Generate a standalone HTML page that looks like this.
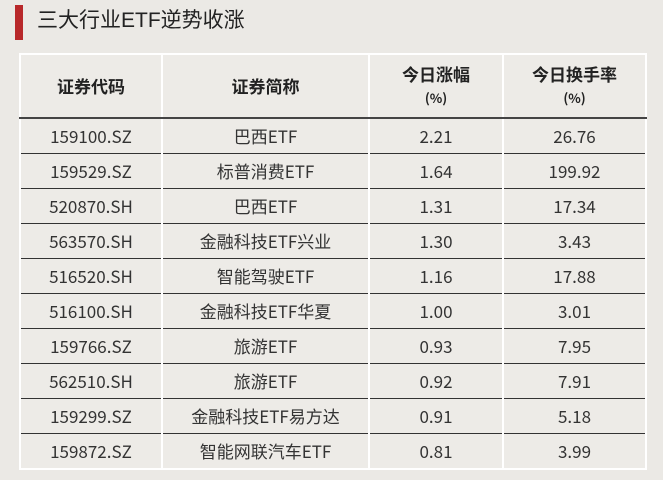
<!DOCTYPE html>
<html><head><meta charset="utf-8"><style>
body{margin:0;width:663px;height:480px;background:#ebe9e5;font-family:"Liberation Sans","Noto Sans CJK SC",sans-serif;position:relative;overflow:hidden}
.bar{position:absolute;left:15px;top:5px;width:8px;height:35px;background:#b8282a}
.title{position:absolute;left:37px;top:6px;font-size:21px;color:#222;line-height:30px}
table{position:absolute;left:19px;top:53px;border-collapse:collapse;table-layout:fixed;background:#edebe7}
td,th{text-align:center;color:#333;font-size:17px;padding:0;border-left:2px solid #fff;border-right:2px solid #fff;vertical-align:middle}
th{height:62px;font-weight:bold;font-size:17px;line-height:22px;border-top:2px solid #fff;border-bottom:2px solid #444;color:#222;font-family:"Noto Sans CJK SC",sans-serif}
th small{font-size:13px;font-weight:bold}
td{height:34px;line-height:20px;border-bottom:1.5px solid #333;font-family:"Noto Sans CJK SC","Liberation Sans",sans-serif}
tr:last-child td{border-bottom:2px solid #fff}
</style></head><body>
<div class="bar"></div><div class="title">三大行业ETF逆势收涨</div>
<table>
<colgroup><col style="width:142px"><col style="width:207px"><col style="width:134px"><col style="width:143px"></colgroup>
<tr><th>证券代码</th><th>证券简称</th><th>今日涨幅<br><small>(%)</small></th><th>今日换手率<br><small>(%)</small></th></tr>
<tr><td>159100.SZ</td><td>巴西ETF</td><td>2.21</td><td>26.76</td></tr>
<tr><td>159529.SZ</td><td>标普消费ETF</td><td>1.64</td><td>199.92</td></tr>
<tr><td>520870.SH</td><td>巴西ETF</td><td>1.31</td><td>17.34</td></tr>
<tr><td>563570.SH</td><td>金融科技ETF兴业</td><td>1.30</td><td>3.43</td></tr>
<tr><td>516520.SH</td><td>智能驾驶ETF</td><td>1.16</td><td>17.88</td></tr>
<tr><td>516100.SH</td><td>金融科技ETF华夏</td><td>1.00</td><td>3.01</td></tr>
<tr><td>159766.SZ</td><td>旅游ETF</td><td>0.93</td><td>7.95</td></tr>
<tr><td>562510.SH</td><td>旅游ETF</td><td>0.92</td><td>7.91</td></tr>
<tr><td>159299.SZ</td><td>金融科技ETF易方达</td><td>0.91</td><td>5.18</td></tr>
<tr><td>159872.SZ</td><td>智能网联汽车ETF</td><td>0.81</td><td>3.99</td></tr>
</table>
</body></html>
